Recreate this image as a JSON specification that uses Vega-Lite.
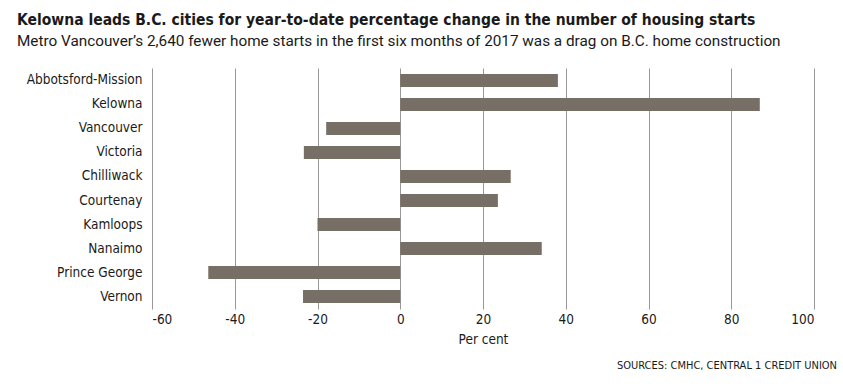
{
  "$schema": "https://vega.github.io/schema/vega-lite/v6.json",
  "padding": {"left": 17, "top": 13, "right": 6, "bottom": 8},
  "background": "white",
  "title": {
    "text": "Kelowna leads B.C. cities for year-to-date percentage change in the number of housing starts",
    "subtitle": "Metro Vancouver’s 2,640 fewer home starts in the first six months of 2017 was a drag on B.C. home construction",
    "anchor": "start",
    "font": "DejaVu Sans Condensed, Roboto",
    "fontSize": 15.5,
    "fontWeight": "bold",
    "color": "#1a1a1a",
    "subtitleFont": "Roboto",
    "subtitleFontSize": 15.3,
    "subtitleColor": "#1a1a1a",
    "subtitlePadding": 5,
    "offset": 19
  },
  "vconcat": [
    {
      "width": 662,
      "height": 241,
      "title": {
        "text": "SOURCES: CMHC, CENTRAL 1 CREDIT UNION",
        "orient": "bottom",
        "anchor": "end",
        "frame": "group",
        "font": "DejaVu Sans Condensed, Roboto",
        "fontSize": 11,
        "fontWeight": "normal",
        "color": "#1a1a1a",
        "dx": 23,
        "offset": 14
      },
      "data": {
        "values": [
          {"city": "Abbotsford-Mission", "pct": 38.1},
          {"city": "Kelowna", "pct": 86.9},
          {"city": "Vancouver", "pct": -17.9},
          {"city": "Victoria", "pct": -23.3},
          {"city": "Chilliwack", "pct": 26.7},
          {"city": "Courtenay", "pct": 23.6},
          {"city": "Kamloops", "pct": -20.0},
          {"city": "Nanaimo", "pct": 34.2},
          {"city": "Prince George", "pct": -46.4},
          {"city": "Vernon", "pct": -23.5}
        ]
      },
      "mark": {"type": "bar", "color": "#776f65"},
      "encoding": {
        "y": {
          "field": "city",
          "type": "nominal",
          "sort": null,
          "scale": {"paddingInner": 0.46, "paddingOuter": 0.25},
          "axis": {
            "title": null,
            "ticks": false,
            "domain": false,
            "labelFont": "DejaVu Sans Condensed, Roboto",
            "labelFontSize": 13.5,
            "labelColor": "#1a1a1a",
            "labelPadding": 10,
            "minExtent": 135,
            "maxExtent": 135
          }
        },
        "x": {
          "field": "pct",
          "type": "quantitative",
          "scale": {"domain": [-60, 100], "nice": false},
          "axis": {
            "title": "Per cent",
            "values": [-60, -40, -20, 0, 20, 40, 60, 80, 100],
            "labelExpr": "datum.value + ''",
            "ticks": false,
            "domain": false,
            "grid": true,
            "gridColor": "#999999",
            "gridWidth": 1,
            "gridOpacity": 1,
            "labelFont": "DejaVu Sans Condensed, Roboto",
            "labelFontSize": 13.5,
            "labelColor": "#1a1a1a",
            "labelPadding": 3,
            "titleFont": "DejaVu Sans Condensed, Roboto",
            "titleFontSize": 13.5,
            "titleFontWeight": "normal",
            "titleColor": "#1a1a1a",
            "titlePadding": 7
          }
        }
      }
    }
  ],
  "config": {
    "view": {"stroke": null}
  }
}
